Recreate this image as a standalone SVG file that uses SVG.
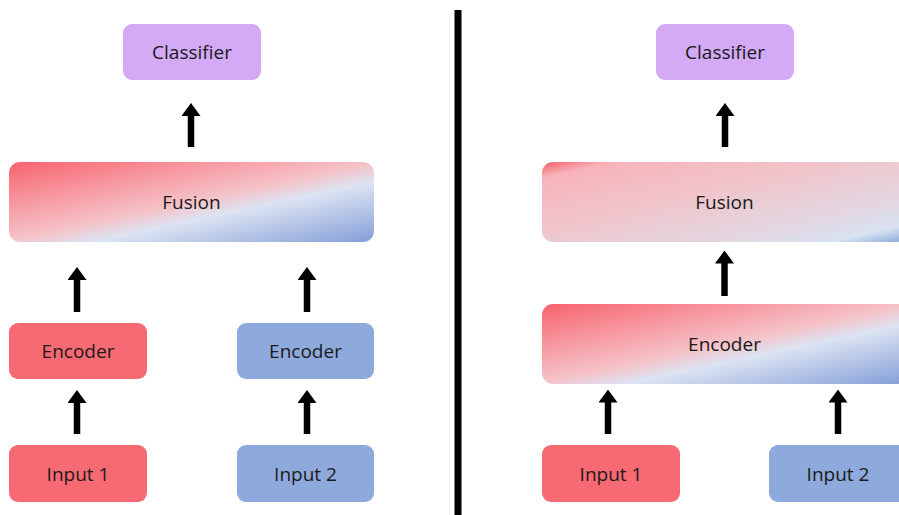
<svg xmlns="http://www.w3.org/2000/svg" width="899" height="515" viewBox="0 0 899 515">
  <style>
    .lbl { font-family: "Open Sans", "Noto Sans", "Liberation Sans", sans-serif; font-size: 19px; fill: #1a1a1a; text-anchor: middle; dominant-baseline: central; }
    .red { fill: #F76A73; }
    .blue { fill: #8EA9DB; }
    .purple { fill: #D4A9F5; }
    .conn line { stroke: #000; stroke-width: 6.5; marker-end: url(#head); }
  </style>
  <defs>
    <marker id="head" markerUnits="userSpaceOnUse" markerWidth="13" markerHeight="19" viewBox="0 0 13 19" refX="0.5" refY="9.5" orient="auto">
      <path d="M0,0 L13,9.5 L0,19 Z" fill="#000"/>
    </marker>
    <linearGradient id="gradA" gradientUnits="userSpaceOnUse" x1="217" y1="118" x2="249" y2="268">
      <stop offset="0" stop-color="#F7636E"/>
      <stop offset="0.3" stop-color="#F79DA5"/>
      <stop offset="0.5" stop-color="#F5C2C8"/>
      <stop offset="0.62" stop-color="#DCE3F2"/>
      <stop offset="1" stop-color="#849FD8"/>
    </linearGradient>
    <linearGradient id="gradB" gradientUnits="userSpaceOnUse" x1="750" y1="260" x2="782" y2="410">
      <stop offset="0" stop-color="#F7636E"/>
      <stop offset="0.3" stop-color="#F79DA5"/>
      <stop offset="0.5" stop-color="#F5C2C8"/>
      <stop offset="0.62" stop-color="#DCE3F2"/>
      <stop offset="1" stop-color="#849FD8"/>
    </linearGradient>
    <linearGradient id="gradC" gradientUnits="userSpaceOnUse" x1="706.6" y1="124.1" x2="742.4" y2="278.9">
      <stop offset="0" stop-color="#F5606B"/>
      <stop offset="0.1" stop-color="#F7B3BA"/>
      <stop offset="0.4" stop-color="#F1C4CA"/>
      <stop offset="0.72" stop-color="#E4D5DF"/>
      <stop offset="0.9" stop-color="#D8E2F2"/>
      <stop offset="1" stop-color="#8EA9DB"/>
    </linearGradient>
  </defs>
  <rect width="899" height="515" fill="#fff"/>

  <g id="divider"><rect x="454.5" y="10" width="7" height="505" fill="#000"/></g>

  <!-- Left diagram -->
  <g id="l-classifier"><rect class="purple" x="123" y="24" width="138" height="56" rx="9"/><text class="lbl" x="192" y="52">Classifier</text></g>
  <g id="l-fusion"><rect fill="url(#gradA)" x="9" y="162" width="365" height="80" rx="11"/><text class="lbl" x="191.5" y="202">Fusion</text></g>
  <g id="l-encoder1"><rect class="red" x="9" y="323" width="138" height="56" rx="9"/><text class="lbl" x="78" y="351">Encoder</text></g>
  <g id="l-encoder2"><rect class="blue" x="237" y="323" width="137" height="56" rx="9"/><text class="lbl" x="305.5" y="351">Encoder</text></g>
  <g id="l-input1"><rect class="red" x="9" y="445" width="138" height="57" rx="9"/><text class="lbl" x="78" y="473.5">Input 1</text></g>
  <g id="l-input2"><rect class="blue" x="237" y="445" width="137" height="57" rx="9"/><text class="lbl" x="305.5" y="473.5">Input 2</text></g>

  <!-- Right diagram -->
  <g id="r-classifier"><rect class="purple" x="656" y="24" width="138" height="56" rx="9"/><text class="lbl" x="725" y="52">Classifier</text></g>
  <g id="r-fusion"><rect fill="url(#gradC)" x="542" y="162" width="366" height="80" rx="11"/><text class="lbl" x="724.5" y="202">Fusion</text></g>
  <g id="r-encoder"><rect fill="url(#gradB)" x="542" y="304" width="366" height="80" rx="11"/><text class="lbl" x="724.5" y="344">Encoder</text></g>
  <g id="r-input1"><rect class="red" x="542" y="445" width="138" height="57" rx="9"/><text class="lbl" x="611" y="473.5">Input 1</text></g>
  <g id="r-input2"><rect class="blue" x="769" y="445" width="138" height="57" rx="9"/><text class="lbl" x="838" y="473.5">Input 2</text></g>

  <g id="connectors" class="conn">
    <line x1="191" y1="147" x2="191" y2="115.5"/>
    <line x1="77" y1="312" x2="77" y2="279.5"/>
    <line x1="307" y1="312" x2="307" y2="279.5"/>
    <line x1="77" y1="434" x2="77" y2="402.5"/>
    <line x1="307" y1="434" x2="307" y2="402.5"/>
    <line x1="725" y1="147" x2="725" y2="115.5"/>
    <line x1="724.5" y1="296" x2="724.5" y2="263"/>
    <line x1="608" y1="434" x2="608" y2="402"/>
    <line x1="838" y1="434" x2="838" y2="402"/>
  </g>
</svg>
